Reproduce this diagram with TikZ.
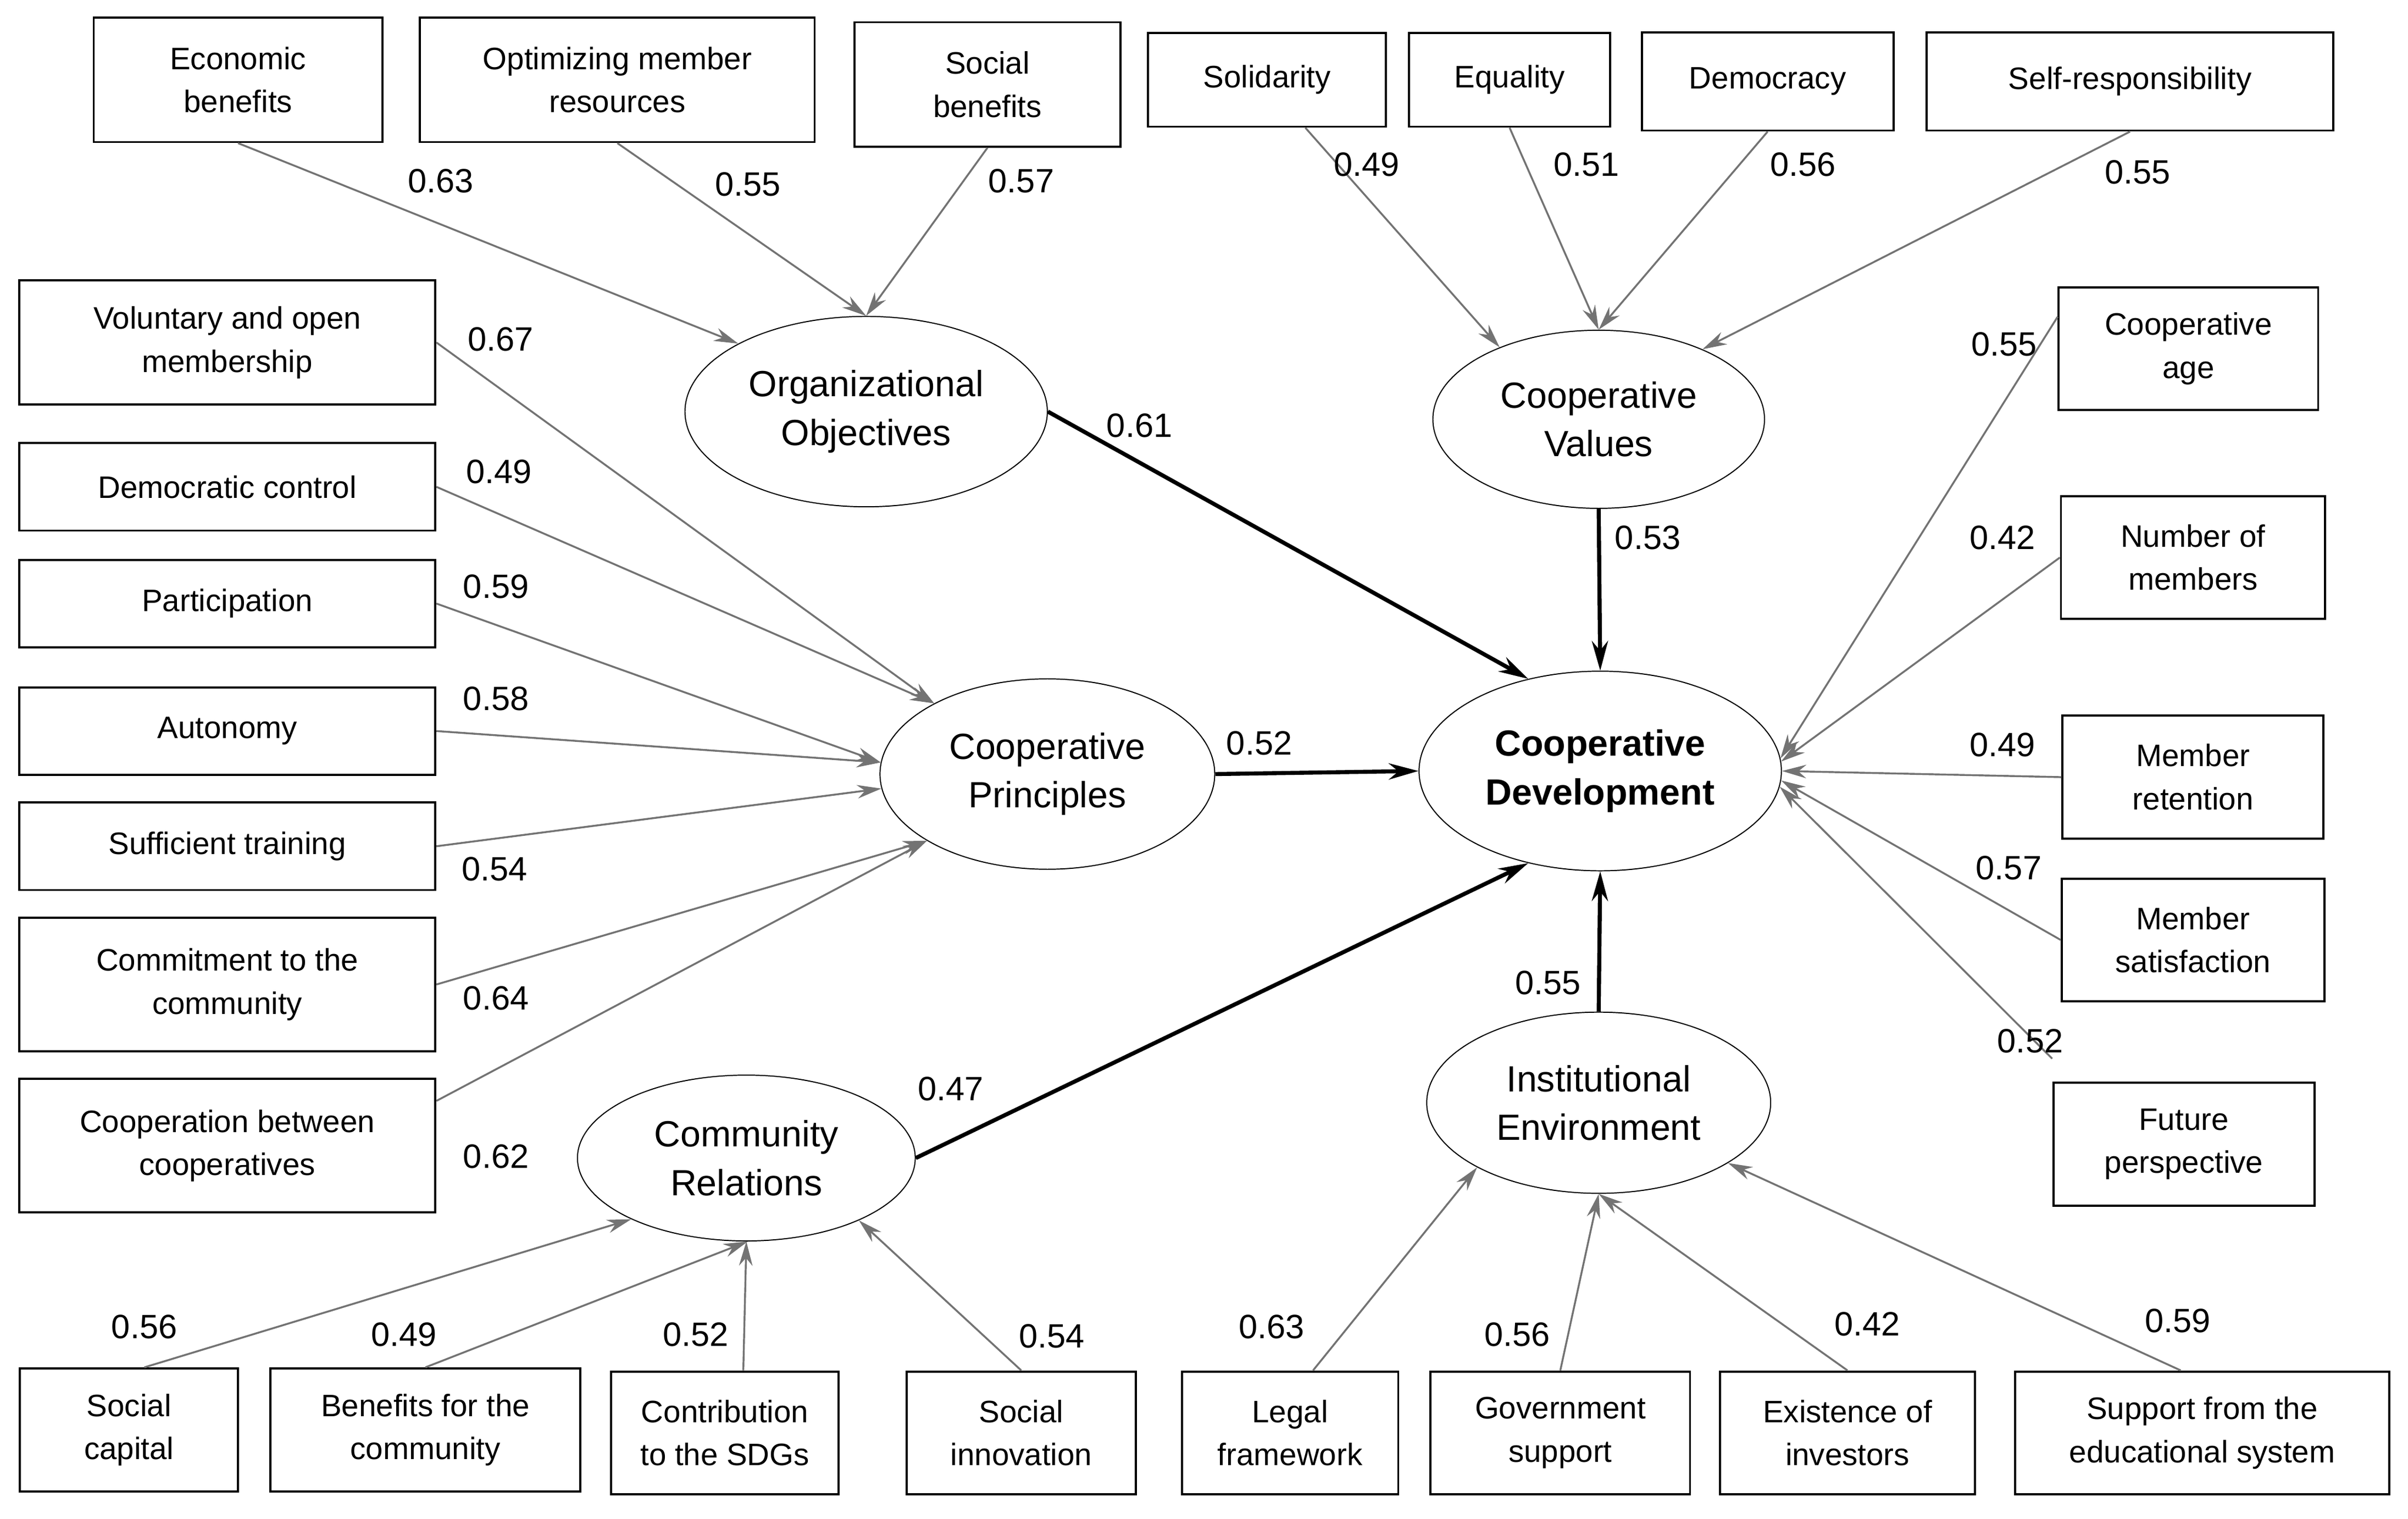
\documentclass[tikz,border=0pt]{standalone}
\usepackage{fontspec}
\setmainfont{Liberation Sans}
\usetikzlibrary{arrows.meta,shapes.geometric}
\begin{document}
\begin{tikzpicture}[x=0.02cm,y=-0.02cm,
 box/.style={draw,thick,align=center,inner sep=1pt,font=\fontsize{11.5}{16}\selectfont,minimum height=1.6cm},
 lat/.style={draw,ellipse,align=center,inner sep=0pt,font=\fontsize{13.5}{18}\selectfont},
 ind/.style={draw=black!55,line width=0.7pt,-{Stealth[length=9pt,width=5pt]}},
 str/.style={draw=black,line width=1.5pt,-{Stealth[length=11pt,width=6pt]}},
 lb/.style={font=\fontsize{12.5}{14}\selectfont}]
\useasboundingbox (0,0) rectangle (1568,989);
% latent
\node[lat,minimum width=4.72cm,minimum height=2.48cm] (oo) at (564,268) {Organizational\\Objectives};
\node[lat,minimum width=4.32cm,minimum height=2.32cm] (cv) at (1041,273) {Cooperative\\Values};
\node[lat,minimum width=4.36cm,minimum height=2.48cm] (cp) at (682,504) {Cooperative\\Principles};
\node[lat,minimum width=4.72cm,minimum height=2.6cm,font=\fontsize{13.5}{18}\selectfont\bfseries] (cd) at (1042,502) {Cooperative\\Development};
\node[lat,minimum width=4.4cm,minimum height=2.16cm] (cr) at (486,754) {Community\\Relations};
\node[lat,minimum width=4.48cm,minimum height=2.36cm] (ie) at (1041,718) {Institutional\\Environment};
% top boxes
\node[box,minimum width=3.76cm,minimum height=1.62cm] (econ) at (155,52) {Economic\\benefits};
\node[box,minimum width=5.14cm,minimum height=1.62cm] (opt) at (402,52) {Optimizing member\\resources};
\node[box,minimum width=3.46cm,minimum height=1.62cm] (soc) at (643,55) {Social\\benefits};
\node[box,minimum width=3.1cm,minimum height=1.22cm] (sol) at (825,52) {Solidarity};
\node[box,minimum width=2.62cm,minimum height=1.22cm] (equ) at (983,52) {Equality};
\node[box,minimum width=3.28cm,minimum height=1.28cm] (dem) at (1151,53) {Democracy};
\node[box,minimum width=5.3cm,minimum height=1.28cm] (selfr) at (1387,53) {Self-responsibility};
% left boxes
\node[box,minimum width=5.42cm,minimum height=1.62cm] (vol) at (148,223) {Voluntary and open\\membership};
\node[box,minimum width=5.42cm,minimum height=1.14cm] (dc) at (148,317) {Democratic control};
\node[box,minimum width=5.42cm,minimum height=1.14cm] (part) at (148,393) {Participation};
\node[box,minimum width=5.42cm,minimum height=1.14cm] (auto) at (148,476) {Autonomy};
\node[box,minimum width=5.42cm,minimum height=1.14cm] (suff) at (148,551) {Sufficient training};
\node[box,minimum width=5.42cm,minimum height=1.74cm] (comm) at (148,641) {Commitment to the\\community};
\node[box,minimum width=5.42cm,minimum height=1.74cm] (coop) at (148,746) {Cooperation between\\cooperatives};
% right boxes
\node[box,minimum width=3.38cm] (age) at (1425,227) {Cooperative\\age};
\node[box,minimum width=3.44cm] (num) at (1428,363) {Number of\\members};
\node[box,minimum width=3.4cm] (ret) at (1428,506) {Member\\retention};
\node[box,minimum width=3.42cm] (sat) at (1428,612) {Member\\satisfaction};
\node[box,minimum width=3.4cm] (fut) at (1422,745) {Future\\perspective};
% bottom boxes
\node[box,minimum width=2.84cm] (sc) at (84,931) {Social\\capital};
\node[box,minimum width=4.04cm] (bfc) at (277,931) {Benefits for the\\community};
\node[box,minimum width=2.96cm] (sdg) at (472,933) {Contribution\\to the SDGs};
\node[box,minimum width=2.98cm] (si) at (665,933) {Social\\innovation};
\node[box,minimum width=2.82cm] (lf) at (840,933) {Legal\\framework};
\node[box,minimum width=3.38cm] (gs) at (1016,933) {Government\\support};
\node[box,minimum width=3.32cm] (ei) at (1203,933) {Existence of\\investors};
\node[box,minimum width=4.88cm] (sup) at (1434,933) {Support from the\\educational system};
% indicator arrows
\draw[ind] (econ.south) -- (oo.152);
\draw[ind] (opt.south) -- (oo.north);
\draw[ind] (soc.south) -- (oo.north);
\draw[ind] ([xshift=0.5cm]sol.south) -- (cv.144);
\draw[ind] (equ.south) -- (cv.north);
\draw[ind] (dem.south) -- (cv.north);
\draw[ind] (selfr.south) -- (cv.34);
\draw[ind] (vol.east) -- (cp.148);
\draw[ind] (dc.east) -- (cp.148);
\draw[ind] (part.east) -- (cp.176);
\draw[ind] (auto.east) -- (cp.176);
\draw[ind] (suff.east) -- (cp.185);
\draw[ind] (comm.east) -- (cp.209);
\draw[ind] ([yshift=-0.3cm]coop.north east) -- (cp.209);
\draw[ind] ([yshift=-0.4cm]age.north west) -- (cd.4);
\draw[ind] (num.west) -- (cd.3);
\draw[ind] (ret.west) -- (cd.0);
\draw[ind] (sat.west) -- (cd.-3);
\draw[ind] ([yshift=0.3cm]fut.north west) -- (cd.-5);
\draw[ind] ([xshift=0.2cm]sc.north) -- (cr.208);
\draw[ind] (bfc.north) -- (cr.-89);
\draw[ind] ([xshift=0.24cm]sdg.north) -- (cr.south);
\draw[ind] (si.north) -- (cr.-29);
\draw[ind] ([xshift=0.3cm]lf.north) -- (ie.208);
\draw[ind] (gs.north) -- (ie.south);
\draw[ind] (ei.north) -- (ie.south);
\draw[ind] ([xshift=-0.28cm]sup.north) -- (ie.-25);
% structural
\draw[str] (oo.east) -- (cd.128);
\draw[str] (cv.south) -- (cd.north);
\draw[str] (cp.east) -- (cd.west);
\draw[str] (cr.east) -- (cd.232);
\draw[str] (ie.north) -- (cd.south);
% labels
\foreach \x/\y/\t in {287/118/0.63,487/120/0.55,665/118/0.57,890/107/0.49,1033/107/0.51,1174/107/0.56,1392/112/0.55,
326/221/0.67,325/307/0.49,323/382/0.59,323/455/0.58,322/566/0.54,323/650/0.64,323/753/0.62,
742/277/0.61,1073/350/0.53,820/484/0.52,619/709/0.47,1008/640/0.55,
1305/224/0.55,1304/350/0.42,1304/485/0.49,1308/565/0.57,1322/678/0.52,
94/864/0.56,263/869/0.49,453/869/0.52,685/870/0.54,828/864/0.63,988/869/0.56,1216/862/0.42,1418/860/0.59}
 \node[lb] at (\x,\y) {\t};
\end{tikzpicture}
\end{document}
